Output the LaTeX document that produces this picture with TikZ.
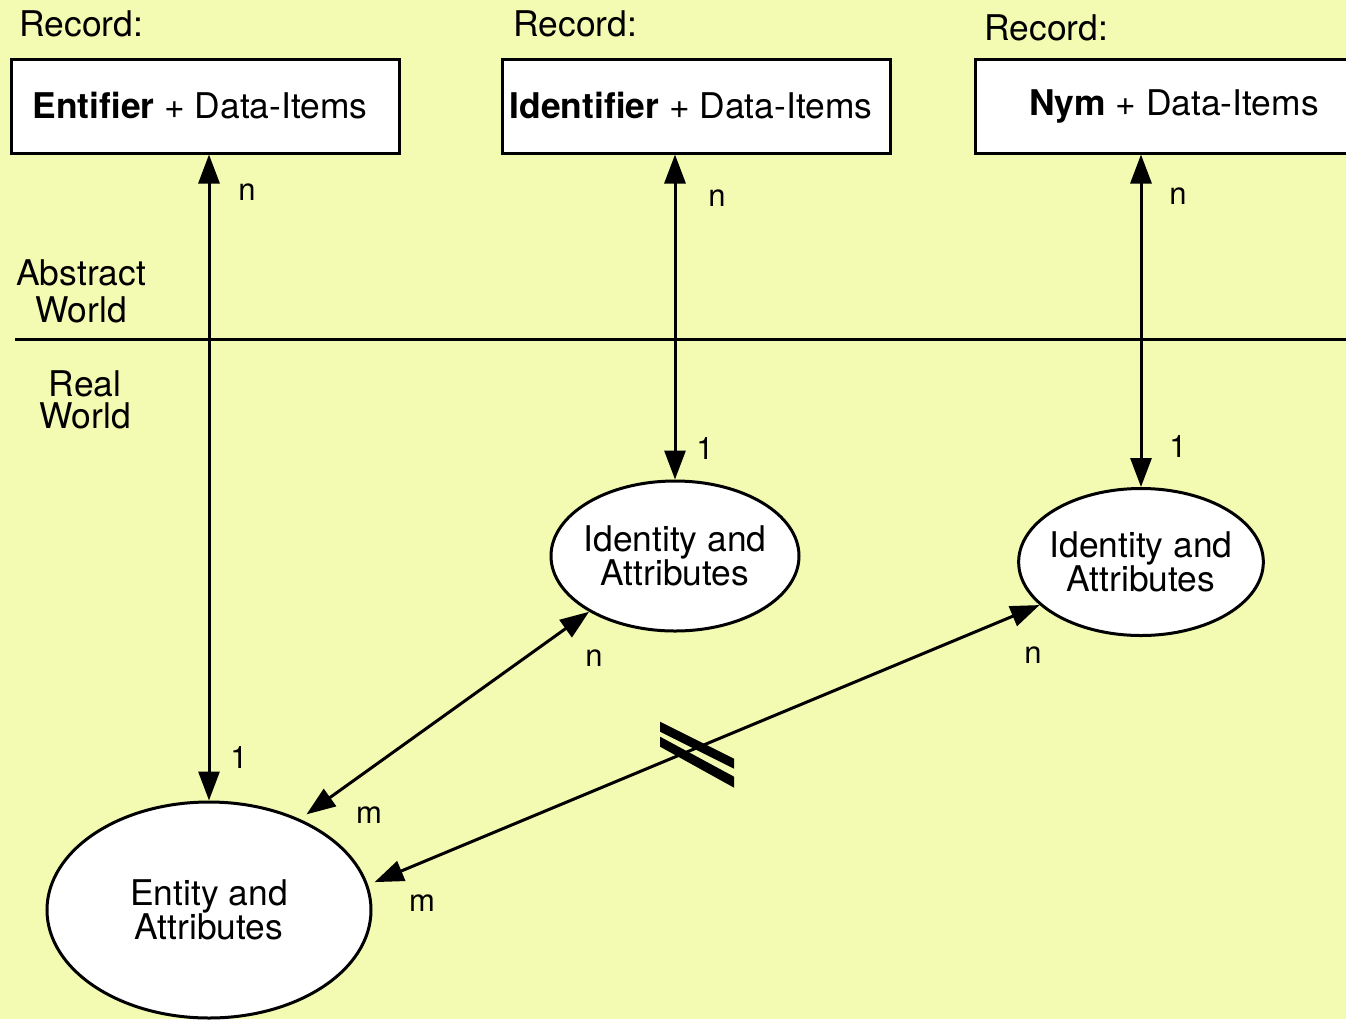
\documentclass[tikz,border=0pt]{standalone}
\usepackage{fontspec}
\setmainfont{TeX Gyre Heros}
\usetikzlibrary{arrows.meta,shapes.geometric}

\definecolor{paperYellow}{RGB}{243,250,177}

\tikzset{
    >={Triangle[length=14.5pt, width=10.5pt]},
    recordBox/.style = {draw, fill = white, rectangle, inner sep = 0pt,
        minimum width = 194pt, minimum height = 47pt,
        font = \fontsize{17.7}{21}\selectfont},
    worldBlob/.style = {draw, fill = white, ellipse, inner xsep = -2.5pt,
        inner ysep = 0pt, align = center,
        font = \fontsize{17.7}{17}\selectfont},
    plainText/.style = {inner sep = 0pt, font = \fontsize{17.7}{21}\selectfont},
    tagText/.style = {inner sep = 0pt, font = \fontsize{15.5}{17}\selectfont},
    link/.style = {<->},
}

\begin{document}
\begin{tikzpicture}[x = 0.5pt, y = -0.5pt, line width = 1.5pt]

    \useasboundingbox (0,0) rectangle (1346,1019);
    \fill [paperYellow] (0,0) rectangle (1346,1019);
    \clip (0,0) rectangle (1346,1019);

    %% Drawing the records
    \node [plainText, anchor = base west] (recLabelA) at (18,36) {Record:};
    \node [plainText, anchor = base west] (recLabelB) at (512,36) {Record:};
    \node [plainText, anchor = base west] (recLabelC) at (983,40) {Record:};

    \node [recordBox] (entifierRec) at (205,106)
    {\textbf{Entifier} + Data-Items\hspace*{5pt}};
    \node [recordBox] (identifierRec) at (696,106)
    {\textbf{Identifier} + Data-Items\hspace*{5pt}};
    \node [recordBox, minimum width = 204pt] (nymRec) at (1179,106)
    {\raisebox{1.5pt}{\textbf{Nym} + Data-Items}\hspace*{5pt}};

    %% Drawing the two worlds
    \draw
    (15,339) -- (1346,339)
    ;
    \node [plainText, align = center, font = \fontsize{17.7}{18.5}\selectfont]
    (abstractWorld) at (81,291) {Abstract\\World};
    \node [plainText, align = center, font = \fontsize{17.7}{16}\selectfont]
    (realWorld) at (85,400) {Real\\World};

    %% Drawing the ellipses
    \node [worldBlob, minimum width = 162pt, minimum height = 108pt]
    (entity) at (209,910) {Entity and\\Attributes};
    \node [worldBlob, minimum width = 124pt, minimum height = 75pt]
    (identityA) at (675,556) {Identity and\\Attributes};
    \node [worldBlob, minimum width = 122pt, minimum height = 73.5pt]
    (identityB) at (1141,562) {Identity and\\Attributes};

    %% Drawing the arrows
    \draw [link]
    (entifierRec.south -| entity.north) -- (entity.north)
    ;
    \draw [link]
    (identifierRec.south -| identityA.north) -- (identityA.north)
    ;
    \draw [link]
    (nymRec.south -| identityB.north) -- (identityB.north)
    ;
    \draw [link, shorten <= 4pt]
    (entity.45) -- (identityA.213)
    ;
    \draw [link, shorten <= 3.5pt]
    (entity.9) -- (identityB.203)
    coordinate [pos = 0.49] (strikeMid)
    ;

    %% Drawing the strike mark
    \fill
    (strikeMid) ++(-37,-26) -- ++(74,37) -- ++(0,10) -- ++(-74,-37) -- cycle
    (strikeMid) ++(-37,-11) -- ++(74,40) -- ++(0,11) -- ++(-74,-41) -- cycle
    ;

    %% Drawing the labels
    \node [tagText] (tagA) at (247,192) {n};
    \node [tagText] (tagB) at (239,757) {1};
    \node [tagText] (tagC) at (717,198) {n};
    \node [tagText] (tagD) at (705,449) {1};
    \node [tagText] (tagE) at (1178,196) {n};
    \node [tagText] (tagF) at (1178,447) {1};
    \node [tagText] (tagG) at (594,658) {n};
    \node [tagText] (tagH) at (369,815) {m};
    \node [tagText] (tagI) at (1033,655) {n};
    \node [tagText] (tagJ) at (422,903) {m};

\end{tikzpicture}
\end{document}
